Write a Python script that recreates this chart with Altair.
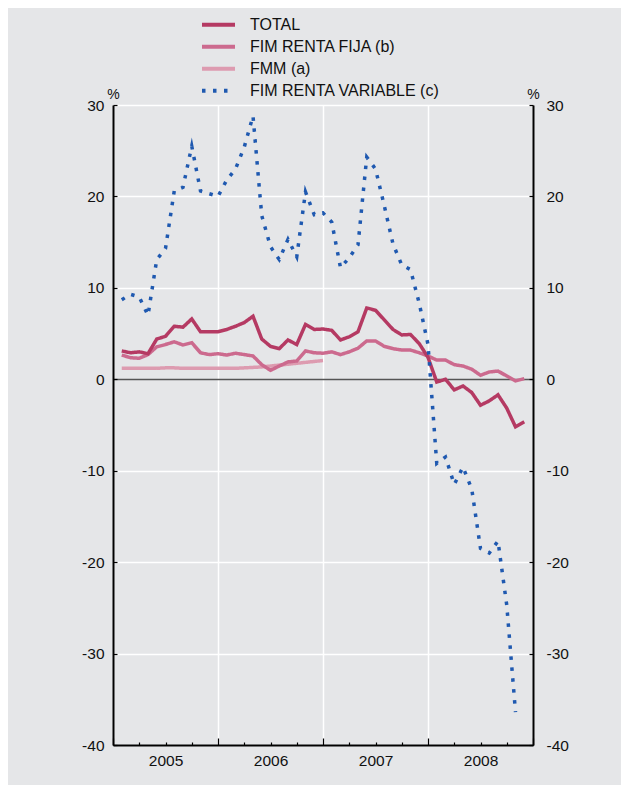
import altair as alt
import pandas as pd

# ---- data (monthly, month index 1 = end of Jan 2005) ----
series_names = ["TOTAL", "FIM RENTA FIJA (b)", "FMM (a)", "FIM RENTA VARIABLE (c)"]
series_colors = ["#b53a63", "#cc6a8e", "#dd9bb0", "#1f59b0"]
series_dashes = [[1, 0], [1, 0], [1, 0], [3.5, 7.5]]
years = [2005, 2006, 2007, 2008]
y_ticks = [-40, -30, -20, -10, 0, 10, 20, 30]

total = [3.1, 2.9, 3.0, 2.8, 4.4, 4.7, 5.8, 5.7, 6.6, 5.2, 5.2, 5.2,
         5.45, 5.8, 6.2, 6.9, 4.4, 3.6, 3.35, 4.3, 3.8, 6.0, 5.45, 5.5,
         5.35, 4.3, 4.65, 5.2, 7.8, 7.55, 6.5, 5.45, 4.85, 4.9, 3.9, 2.4,
         -0.3, 0.0, -1.16, -0.73, -1.45, -2.84, -2.36, -1.7, -3.16, -5.2, -4.65]
renta_fija = [2.65, 2.36, 2.3, 2.7, 3.55, 3.8, 4.1, 3.75, 4.0, 2.9, 2.7, 2.8,
              2.65, 2.85, 2.7, 2.55, 1.6, 0.98, 1.45, 1.9, 2.0, 3.1, 2.9, 2.85,
              3.0, 2.7, 3.0, 3.4, 4.2, 4.2, 3.6, 3.35, 3.2, 3.2, 2.9, 2.55,
              2.1, 2.1, 1.6, 1.45, 1.1, 0.44, 0.8, 0.9, 0.36, -0.18, 0.07]
fmm = [1.2, 1.2, 1.2, 1.2, 1.2, 1.25, 1.25, 1.2, 1.2, 1.2, 1.2, 1.2,
       1.2, 1.2, 1.25, 1.3, 1.35, 1.45, 1.55, 1.65, 1.75, 1.85, 1.95, 2.05]
renta_variable = [8.7, 9.3, 9.0, 7.0, 13.1, 14.3, 20.6, 21.0, 25.5, 20.6, 20.3, 20.0,
                  21.8, 23.0, 25.4, 28.8, 17.9, 14.5, 13.1, 15.3, 13.4, 20.5, 18.0, 18.2,
                  17.2, 12.2, 13.3, 14.7, 24.3, 23.0, 19.0, 14.8, 12.5, 12.0, 8.3, 3.8,
                  -9.2, -8.5, -11.5, -9.6, -12.0, -18.5, -19.0, -17.7, -24.7, -36.4]

rows = []
for name, vals in zip(series_names, [total, renta_fija, fmm, renta_variable]):
    for i, v in enumerate(vals):
        rows.append({"serie": name, "mes": i + 1, "valor": v})
df = pd.DataFrame(rows)

FONT = "Liberation Sans"
BG = "#e5e6e8"
FS = 15.5

year_array = "[" + ",".join(str(y) for y in years) + "]"
x_axis = alt.Axis(
    values=list(range(0, 49, 3)),
    labelExpr=f"datum.value % 12 == 6 ? '' + {year_array}[floor(datum.value / 12)] : ''",
    grid=True, gridColor="white", gridWidth=1.5,
    gridOpacity={"condition": {"test": "datum.value % 12 == 0", "value": 1}, "value": 0},
    domainColor="black", domainWidth=2,
    tickColor="black", tickWidth=1.2,
    tickSize=alt.ExprRef(expr="datum.value % 12 == 0 ? -7 : -3"),
    labelFont=FONT, labelFontSize=FS, labelColor="#111", labelPadding=11,
    labelOverlap=False, labelFlush=False, title=None,
)

def y_axis(orient, grid, pad):
    kw = dict(
        orient=orient, values=y_ticks,
        labelExpr="'' + datum.value",
        domainColor="black", domainWidth=2,
        tickColor="black", tickWidth=1.2, tickSize=alt.ExprRef(expr="-4"),
        labelFont=FONT, labelFontSize=FS, labelColor="#111", labelPadding=pad,
        title="%", titleAngle=0, titleX=0, titleY=-7, titleAlign="center",
        titleBaseline="alphabetic", titleFont=FONT, titleFontSize=14,
        titleFontWeight="normal", titleColor="#111",
        grid=grid,
    )
    if grid:
        kw.update(gridColor={"condition": {"test": "datum.value == 0", "value": "#555"},
                             "value": "white"},
                  gridWidth=1.5)
    return alt.Axis(**kw)

legend = alt.Legend(
    orient="none", legendX=87, legendY=-91, direction="vertical",
    title=None, symbolType="stroke", symbolSize=1089, symbolStrokeWidth=4,
    labelFont=FONT, labelFontSize=16, labelColor="#111", labelOffset=13,
    labelLimit=400,
    rowPadding=0, clipHeight=21.5, padding=0,
)

y_scale = alt.Scale(domain=[-40, 30], nice=False, zero=False)

base = alt.Chart(df).encode(
    x=alt.X("mes:Q", scale=alt.Scale(domain=[0, 48], nice=False, zero=False), axis=x_axis),
    color=alt.Color("serie:N", scale=alt.Scale(domain=series_names, range=series_colors),
                    legend=legend, title=None),
    strokeDash=alt.StrokeDash("serie:N", scale=alt.Scale(domain=series_names, range=series_dashes),
                              legend=legend, title=None),
)

draw_order = ["FMM (a)", "FIM RENTA FIJA (b)", "TOTAL", "FIM RENTA VARIABLE (c)"]
layers = []
for i, name in enumerate(draw_order):
    if i == 0:
        yenc = alt.Y("valor:Q", scale=y_scale, axis=y_axis("left", True, 13))
    elif i == len(draw_order) - 1:
        yenc = alt.Y("valor:Q", scale=y_scale, axis=y_axis("right", False, 17))
    else:
        yenc = alt.Y("valor:Q", scale=y_scale, axis=None)
    mark_kw = dict(strokeWidth=3.5)
    if name == "FIM RENTA VARIABLE (c)":
        mark_kw.update(strokeMiterLimit=8)
    layers.append(base.transform_filter(alt.datum.serie == name).mark_line(**mark_kw).encode(y=yenc))

chart = alt.layer(*layers).resolve_axis(y="independent").properties(
    width=420, height=640,
    background=BG,
    padding={"left": 105, "top": 97, "right": 88, "bottom": 40},
    autosize=alt.AutoSizeParams(type="none"),
).configure_view(stroke=None)

chart.save("out.html", embed_options={"renderer": "svg", "actions": False})
